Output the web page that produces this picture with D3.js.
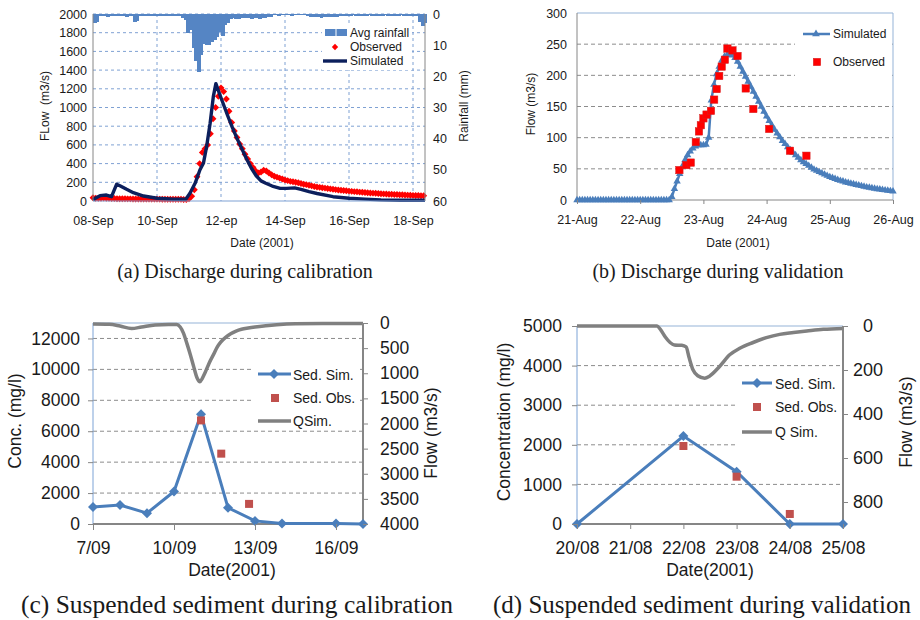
<!DOCTYPE html>
<html>
<head>
<meta charset="utf-8">
<script src="https://cdn.jsdelivr.net/npm/d3@7"></script>
<style>
  body { margin: 0; background: #fff; }
  text { font-family: "Liberation Sans", Arial, sans-serif; fill: #1a1a1a; }
  .cap { font-family: "Liberation Serif", "Times New Roman", serif; }
</style>
</head>
<body>
<svg id="fig" width="920" height="620"></svg>
<script>
// ---------- data: (a) discharge during calibration, days from 08-Sep 00:00 ----------
const aTickDays = [0, 2, 4, 6, 8, 10];
const aTickLabels = ["08-Sep", "10-Sep", "12-ep", "14-Sep", "16-Sep", "18-Sep"];
// average rainfall (mm), 2-hour bins
const rainA = [3, 2.5, 0.8, 0.7, 0.8, 0.9, 0.8, 0.7, 0.8, 0.8, 0.7, 0.8, 0.9, 0.8, 0.8,
  2.5, 2.2, 0.5, 0.5, 0.6, 0.5, 0.5, 0.5, 0.6, 0.5, 0.5, 0.5, 0.6, 0.5, 0.5, 0.5, 0.6, 0.8,
  1.2, 2, 6, 5, 11, 15, 18.5, 13, 9.5, 10, 10, 9, 8.3, 7.5, 5.8, 7, 3.5, 3, 1.5,
  1.3, 1.5, 1.6, 1.3, 1.2, 1.4, 1.3, 1.6, 1.2, 1.3, 1.5, 1.3, 1.2, 1.1, 1.0,
  0.4, 0.4, 0.5, 0.4, 0.3, 0.4, 0.4, 0.5, 0.4, 0.4, 0.3, 0.4, 0.4, 0.5,
  1.0, 1.1, 0.9, 1.0, 1.2, 1.0, 0.9, 1.0, 1.1, 0.9, 1.0, 0.8,
  0.5, 0.5, 0.6, 0.5, 0.4, 0.5, 0.5, 0.6, 0.5, 0.5, 0.4, 0.5, 0.5, 0.6, 0.5,
  0.5, 0.4, 0.5, 0.5, 0.6, 0.5, 0.5, 0.4, 0.5, 0.5, 0.6, 0.5, 0.5, 0.6,
  2.5, 4, 3];
// observed flow (m3/s), 2-hour steps
const obsA = [35, 30, 28, 30, 32, 30, 28, 27, 26, 25, 25, 24,
  24, 23, 23, 22, 22, 22, 22, 21, 21, 21, 20, 20,
  20, 20, 19, 19, 19, 18, 18, 18, 18, 18, 17, 15,
  25, 50, 120, 260, 400, 520, 560, 600, 720, 880, 1000, 1120,
  1210, 1170, 1090, 960, 840, 750, 680, 610, 560, 500, 450, 400,
  360, 320, 300, 310, 330, 320, 300, 280, 265, 255, 245, 235,
  225, 218, 210, 205, 200, 195, 188, 180, 175, 168, 162, 155,
  150, 146, 142, 138, 134, 130, 126, 122, 118, 115, 112, 109,
  106, 103, 100, 98, 95, 93, 90, 88, 86, 84, 82, 80,
  78, 76, 75, 73, 72, 70, 69, 67, 66, 64, 63, 62,
  60, 59, 58, 57, 56];
const simADays = [0, 0.1, 0.22, 0.42, 0.58, 0.63, 0.74, 0.84, 1.05, 1.26,
  1.58, 2.0, 2.52, 2.9, 3.03, 3.19, 3.34, 3.45, 3.55, 3.66,
  3.76, 3.84, 3.95, 4.07, 4.2, 4.35, 4.5, 4.65, 4.8, 4.95,
  5.1, 5.25, 5.4, 5.6, 5.85, 6.05, 6.3, 6.5, 6.75, 7.0,
  7.5, 8.0, 8.5, 9.0, 9.6, 10.375];
const simAFlow = [10, 35, 57, 64, 46, 89, 180, 164, 125, 89,
  53, 29, 18, 18, 82, 189, 332, 403, 581, 831,
  1116, 1255, 1150, 1040, 920, 790, 670, 560, 450, 350,
  270, 215, 190, 160, 135, 135, 140, 125, 100, 80,
  46, 30, 20, 12, 8, 8];

// ---------- data: (b) discharge during validation, days from 21-Aug 00:00 ----------
const bTickLabels = ["21-Aug", "22-Aug", "23-Aug", "24-Aug", "25-Aug", "26-Aug"];
// simulated flow, hourly
const simB = [0, 0, 0, 0, 0, 0, 0, 0, 0, 0, 0, 0, 0, 0, 0, 0, 0, 0,
  0, 0, 0, 0, 0, 0, 0, 0, 0, 0, 0, 0, 0, 0, 0, 0, 0, 0,
  5, 18, 30, 42, 54, 64, 72, 78, 83, 86, 88, 88, 88, 89, 100, 160, 185, 202, 214, 224, 230, 233, 234,
  232, 228, 222, 214, 206, 198, 190, 182, 174, 166, 158, 150, 142, 134, 127, 120, 113, 107, 101, 95,
  90, 85, 80, 76, 72, 68, 64, 61, 58, 55, 52, 49, 47, 45, 43, 41, 39, 37, 35.5, 34, 32.5, 31, 30,
  28.5, 27.5, 26.5, 25.5, 24.5, 23.5, 22.5, 21.5, 20.5, 19.8, 19, 18.3, 17.6, 17, 16.3, 15.7, 15, 14.5, 14];
const obsBDays = [1.62, 1.73, 1.80, 1.88, 1.93, 1.96, 2.0, 2.05, 2.12, 2.17, 2.21,
  2.25, 2.29, 2.34, 2.38, 2.46, 2.54, 2.67, 2.79, 3.04, 3.37, 3.63];
const obsBFlow = [48, 56, 60, 93, 110, 120, 131, 137, 143, 161, 178,
  199, 214, 225, 243, 240, 231, 179, 146, 114, 79, 71];

// ---------- data: (c) sediment during calibration, days from 7/09 ----------
const cTickDays = [0, 3, 6, 9];
const cTickLabels = ["7/09", "10/09", "13/09", "16/09"];
const sedSimCDays = [0, 1, 2, 3, 4, 5, 6, 7, 9, 10];
const sedSimC = [1100, 1230, 700, 2100, 7100, 1050, 200, 30, 40, 0];
const sedObsCDays = [4, 4.75, 5.78];
const sedObsC = [6700, 4550, 1300];
const qSimCDays = [0, 0.6, 1.0, 1.43, 1.8, 2.3, 2.8, 3.1, 3.23, 3.35, 3.48, 3.6, 3.72, 3.86, 3.96,
  4.04, 4.15, 4.3, 4.48, 4.6, 4.73, 4.9, 5.1, 5.3, 5.5, 5.75, 6.0, 6.4, 6.8, 7.5, 8.5, 10];
const qSimC = [20, 25, 60, 110, 80, 40, 30, 30, 80, 200, 410, 620, 850, 1100, 1170,
  1110, 990, 800, 610, 480, 380, 290, 215, 160, 125, 100, 80, 55, 35, 15, 10, 10];

// ---------- data: (d) sediment during validation, days from 20/08 ----------
const dTickLabels = ["20/08", "21/08", "22/08", "23/08", "24/08", "25/08"];
const sedSimDDays = [0, 2, 3, 4, 5];
const sedSimD = [0, 2220, 1320, 0, 0];
const sedObsDDays = [2, 3, 4];
const sedObsD = [1970, 1195, 253];
const qSimDDays = [0, 1.5, 1.58, 1.66, 1.75, 1.83, 1.97, 2.05, 2.11, 2.18, 2.27, 2.4, 2.49,
  2.68, 2.87, 3.06, 3.31, 3.56, 3.81, 4.07, 4.32, 4.63, 5.0];
const qSimD = [0, 0, 20, 50, 75, 86, 88, 95, 146, 199, 226, 237, 228,
  184, 131, 101, 75, 53, 38, 30, 23, 15, 11];

const svg = d3.select("#fig");
const sans = "'Liberation Sans', Arial, sans-serif";
const gray = "#868686";
const blueLine = "#4a7ebb";
const plain = d3.format("d");

function styleAxis(g, fs) {
  g.attr("font-family", sans).attr("font-size", fs);
  g.select(".domain").remove();
  g.selectAll(".tick line").attr("stroke", gray);
  g.selectAll(".tick text").attr("fill", "#1a1a1a");
}
function line(x1, y1, x2, y2, color, w, dash) {
  svg.append("line").attr("x1", x1).attr("y1", y1).attr("x2", x2).attr("y2", y2)
    .attr("stroke", color).attr("stroke-width", w).attr("stroke-dasharray", dash || null);
}
function vtitle(x, y, txt, fs) {
  svg.append("text").attr("transform", `translate(${x},${y}) rotate(-90)`)
    .attr("text-anchor", "middle").attr("font-size", fs).style("white-space", "pre").text(txt);
}
function htitle(x, y, txt, fs, cls) {
  svg.append("text").attr("x", x).attr("y", y).attr("text-anchor", "middle")
    .attr("font-size", fs).attr("class", cls || null).text(txt);
}
function legendText(x, y, txt, fs) {
  svg.append("text").attr("x", x).attr("y", y).attr("dy", "0.35em").attr("font-size", fs).text(txt);
}

// ================= (a) =================
const aX = d3.scaleLinear().domain([0, 10.375]).range([93, 425]);
const aY = d3.scaleLinear().domain([0, 2000]).range([201, 14]);
const aR = d3.scaleLinear().domain([0, 60]).range([14, 201]);

d3.range(200, 2001, 200).forEach(v => line(93, aY(v), 425, aY(v), "#7fa1d3", 1, "3,3"));
aTickDays.slice(1).forEach(d => line(aX(d), 14, aX(d), 201, "#7fa1d3", 1, "3,3"));

const binW = aX(2 / 24) - aX(0);
svg.append("g").attr("shape-rendering", "crispEdges")
  .selectAll("rect").data(rainA).enter().append("rect")
  .attr("x", (d, i) => aX(i * 2 / 24))
  .attr("y", aR(0))
  .attr("width", binW + 1)
  .attr("height", d => aR(d) - aR(0))
  .attr("fill", "#5585c4");

svg.append("g").selectAll("path").data(obsA).enter().append("path")
  .attr("d", d3.symbol().type(d3.symbolSquare).size(24))
  .attr("transform", (d, i) => `translate(${aX(i * 2 / 24)},${aY(d)}) rotate(45)`)
  .attr("fill", "#ff0000");

svg.append("path")
  .datum(simADays.map((d, i) => [d, simAFlow[i]]))
  .attr("d", d3.line().x(d => aX(d[0])).y(d => aY(d[1])))
  .attr("fill", "none").attr("stroke", "#0c1f5c").attr("stroke-width", 3.4)
  .attr("stroke-linejoin", "round");

line(93, 14, 93, 201, gray, 1);
line(425, 14, 425, 201, gray, 1);
line(93, 201, 425, 201, "#7fa1d3", 1);

styleAxis(svg.append("g").attr("transform", "translate(93,0)")
  .call(d3.axisLeft(aY).tickValues(d3.range(0, 2001, 200)).tickFormat(plain).tickSize(0).tickPadding(6)), 12.5);
styleAxis(svg.append("g").attr("transform", "translate(425,0)")
  .call(d3.axisRight(aR).tickValues(d3.range(0, 61, 10)).tickFormat(plain).tickSize(0).tickPadding(8)), 12.5);
styleAxis(svg.append("g").attr("transform", "translate(0,201)")
  .call(d3.axisBottom(aX).tickValues(aTickDays).tickFormat((d, i) => aTickLabels[i])
    .tickSize(0).tickPadding(15)), 12.5);

svg.append("rect").attr("x", 322).attr("y", 23).attr("width", 90).attr("height", 47).attr("fill", "#fff");
svg.append("rect").attr("x", 325).attr("y", 29).attr("width", 22).attr("height", 7).attr("fill", "#5585c4");
line(336, 29, 336, 36, "#fff", 1);
legendText(350, 32.5, "Avg rainfall", 12);
svg.append("path").attr("d", d3.symbol().type(d3.symbolSquare).size(20))
  .attr("transform", "translate(335,47) rotate(45)").attr("fill", "#ff0000");
legendText(350, 47, "Observed", 12);
line(323, 61, 347, 61, "#0c1f5c", 3.4);
legendText(350, 61, "Simulated", 12);

vtitle(49, 106, "FLow  (m3/s)", 12);
vtitle(468, 106, "Rainfall (mm)", 12);
htitle(262, 247, "Date (2001)", 12);
htitle(245, 278, "(a) Discharge during calibration", 20, "cap");

// ================= (b) =================
const bX = d3.scaleLinear().domain([0, 5]).range([577, 893]);
const bY = d3.scaleLinear().domain([0, 300]).range([200, 13]);

d3.range(50, 251, 50).forEach(v => line(577, bY(v), 893, bY(v), "#8c8c8c", 1, "4,3"));
line(577, 13, 893, 13, "#95b3d7", 1);
line(893, 13, 893, 200, "#95b3d7", 1);
line(577, 13, 577, 200, gray, 1);
line(577, 200, 893, 200, gray, 1);

svg.append("path")
  .datum(simB)
  .attr("d", d3.line().x((d, i) => bX(i / 24)).y(d => bY(d)))
  .attr("fill", "none").attr("stroke", blueLine).attr("stroke-width", 2.5);
svg.append("g").selectAll("path").data(simB).enter().append("path")
  .attr("d", d3.symbol().type(d3.symbolTriangle).size(24))
  .attr("transform", (d, i) => `translate(${bX(i / 24)},${bY(d)})`)
  .attr("fill", blueLine);

svg.append("g").selectAll("rect").data(obsBFlow).enter().append("rect")
  .attr("x", (d, i) => bX(obsBDays[i]) - 3.7)
  .attr("y", d => bY(d) - 3.7)
  .attr("width", 7.4).attr("height", 7.4)
  .attr("fill", "#ff0000").attr("stroke", "#d42020").attr("stroke-width", 0.5);

styleAxis(svg.append("g").attr("transform", "translate(577,0)")
  .call(d3.axisLeft(bY).tickValues(d3.range(0, 301, 50)).tickFormat(plain).tickSize(0).tickPadding(10)), 12.5);
styleAxis(svg.append("g").attr("transform", "translate(0,200)")
  .call(d3.axisBottom(bX).tickValues(d3.range(0, 6)).tickFormat((d, i) => bTickLabels[i])
    .tickSize(4).tickPadding(11)), 12.5);

svg.append("rect").attr("x", 795).attr("y", 18).attr("width", 97).attr("height", 62).attr("fill", "#fff");
line(803, 34, 830, 34, blueLine, 2.5);
svg.append("path").attr("d", d3.symbol().type(d3.symbolTriangle).size(26))
  .attr("transform", "translate(816,34)").attr("fill", blueLine);
legendText(833, 34, "Simulated", 12);
svg.append("rect").attr("x", 813.3).attr("y", 58.3).attr("width", 7.4).attr("height", 7.4)
  .attr("fill", "#ff0000").attr("stroke", "#d42020").attr("stroke-width", 0.5);
legendText(833, 62, "Observed", 12);

vtitle(535, 104, "Flow (m3/s)", 12);
htitle(738, 247, "Date (2001)", 12);
htitle(718, 278, "(b) Discharge during validation", 20, "cap");

// ================= (c) =================
const cX = d3.scaleLinear().domain([0, 10]).range([93, 363]);
const cY = d3.scaleLinear().domain([0, 13000]).range([524, 323]);
const cQ = d3.scaleLinear().domain([0, 4000]).range([323, 524]);

d3.range(2000, 12001, 2000).forEach(v => line(93, cY(v), 363, cY(v), "#8c8c8c", 1, "4,3"));
line(93, 323, 363, 323, "#95b3d7", 1);
line(93, 323, 93, 524, "#7da3d6", 1);

svg.append("path")
  .datum(qSimCDays.map((d, i) => [d, qSimC[i]]))
  .attr("d", d3.line().x(d => cX(d[0])).y(d => cQ(d[1])).curve(d3.curveMonotoneX))
  .attr("fill", "none").attr("stroke", "#808080").attr("stroke-width", 3.5);

line(363, 323, 363, 524, gray, 2);
line(93, 524, 363, 524, gray, 2);

svg.append("path")
  .datum(sedSimCDays.map((d, i) => [d, sedSimC[i]]))
  .attr("d", d3.line().x(d => cX(d[0])).y(d => cY(d[1])))
  .attr("fill", "none").attr("stroke", blueLine).attr("stroke-width", 3);
svg.append("g").selectAll("path").data(sedSimC).enter().append("path")
  .attr("d", d3.symbol().type(d3.symbolSquare).size(50))
  .attr("transform", (d, i) => `translate(${cX(sedSimCDays[i])},${cY(d)}) rotate(45)`)
  .attr("fill", blueLine);
svg.append("g").selectAll("rect").data(sedObsC).enter().append("rect")
  .attr("x", (d, i) => cX(sedObsCDays[i]) - 4).attr("y", d => cY(d) - 4)
  .attr("width", 8).attr("height", 8).attr("fill", "#c0504d");

styleAxis(svg.append("g").attr("transform", "translate(93,0)")
  .call(d3.axisLeft(cY).tickValues(d3.range(0, 12001, 2000)).tickFormat(plain).tickSize(5).tickPadding(8)), 17.5);
styleAxis(svg.append("g").attr("transform", "translate(363,0)")
  .call(d3.axisRight(cQ).tickValues(d3.range(0, 4001, 500)).tickFormat(plain).tickSize(5).tickPadding(12)), 17.5);
styleAxis(svg.append("g").attr("transform", "translate(0,524)")
  .call(d3.axisBottom(cX).tickValues(cTickDays).tickFormat((d, i) => cTickLabels[i])
    .tickSize(6).tickPadding(12)), 17.5);

svg.append("rect").attr("x", 254).attr("y", 363).attr("width", 106).attr("height", 65).attr("fill", "#fff");
line(258, 374, 291, 374, blueLine, 3);
svg.append("path").attr("d", d3.symbol().type(d3.symbolSquare).size(50))
  .attr("transform", "translate(274,374) rotate(45)").attr("fill", blueLine);
legendText(293, 375, "Sed. Sim.", 14);
svg.append("rect").attr("x", 271).attr("y", 394).attr("width", 8).attr("height", 8).attr("fill", "#c0504d");
legendText(293, 398, "Sed. Obs.", 14);
line(258, 421, 291, 421, "#808080", 3.5);
legendText(293, 421, "QSim.", 14);

vtitle(21, 421, "Conc. (mg/l)", 17.5);
vtitle(437, 433, "Flow (m3/s)", 17.5);
htitle(232, 576, "Date(2001)", 17.5);
htitle(237, 613, "(c) Suspended sediment during calibration", 25.5, "cap");

// ================= (d) =================
const dX = d3.scaleLinear().domain([0, 5]).range([577, 843]);
const dY = d3.scaleLinear().domain([0, 5000]).range([524, 326]);
const dQ = d3.scaleLinear().domain([0, 900]).range([326, 524]);

d3.range(1000, 4001, 1000).forEach(v => line(577, dY(v), 843, dY(v), "#8c8c8c", 1, "4,3"));
line(577, 326, 843, 326, "#95b3d7", 1);
line(577, 326, 577, 524, "#7da3d6", 1);

svg.append("path")
  .datum(qSimDDays.map((d, i) => [d, qSimD[i]]))
  .attr("d", d3.line().x(d => dX(d[0])).y(d => dQ(d[1])).curve(d3.curveMonotoneX))
  .attr("fill", "none").attr("stroke", "#808080").attr("stroke-width", 3.5);

line(843, 326, 843, 524, gray, 2);
line(577, 524, 843, 524, gray, 2);

svg.append("path")
  .datum(sedSimDDays.map((d, i) => [d, sedSimD[i]]))
  .attr("d", d3.line().x(d => dX(d[0])).y(d => dY(d[1])))
  .attr("fill", "none").attr("stroke", blueLine).attr("stroke-width", 3);
svg.append("g").selectAll("path").data(sedSimD).enter().append("path")
  .attr("d", d3.symbol().type(d3.symbolSquare).size(50))
  .attr("transform", (d, i) => `translate(${dX(sedSimDDays[i])},${dY(d)}) rotate(45)`)
  .attr("fill", blueLine);
svg.append("g").selectAll("rect").data(sedObsD).enter().append("rect")
  .attr("x", (d, i) => dX(sedObsDDays[i]) - 4).attr("y", d => dY(d) - 4)
  .attr("width", 8).attr("height", 8).attr("fill", "#c0504d");

styleAxis(svg.append("g").attr("transform", "translate(577,0)")
  .call(d3.axisLeft(dY).tickValues(d3.range(0, 5001, 1000)).tickFormat(plain).tickSize(5).tickPadding(10)), 17.5);
const dRight = svg.append("g").attr("transform", "translate(843,0)")
  .call(d3.axisRight(dQ).tickValues(d3.range(0, 801, 200)).tickFormat(plain).tickSize(5).tickPadding(20));
styleAxis(dRight, 18);
dRight.selectAll(".tick text").attr("text-anchor", "middle");
styleAxis(svg.append("g").attr("transform", "translate(0,524)")
  .call(d3.axisBottom(dX).tickValues(d3.range(0, 6)).tickFormat((d, i) => dTickLabels[i])
    .tickSize(5).tickPadding(13)), 17.5);

svg.append("rect").attr("x", 738).attr("y", 371).attr("width", 102).attr("height", 77).attr("fill", "#fff");
line(742, 383, 772, 383, blueLine, 3);
svg.append("path").attr("d", d3.symbol().type(d3.symbolSquare).size(50))
  .attr("transform", "translate(757,383) rotate(45)").attr("fill", blueLine);
legendText(775, 384, "Sed. Sim.", 14);
svg.append("rect").attr("x", 753).attr("y", 403).attr("width", 8).attr("height", 8).attr("fill", "#c0504d");
legendText(775, 407, "Sed. Obs.", 14);
line(742, 432, 772, 432, "#808080", 3.5);
legendText(775, 432, "Q Sim.", 14);

vtitle(510, 422, "Concentration (mg/l)", 17.5);
vtitle(912, 422, "Flow (m3/s)", 17.5);
htitle(710, 576, "Date(2001)", 17.5);
htitle(702, 613, "(d) Suspended sediment during validation", 25, "cap");
</script>
</body>
</html>
